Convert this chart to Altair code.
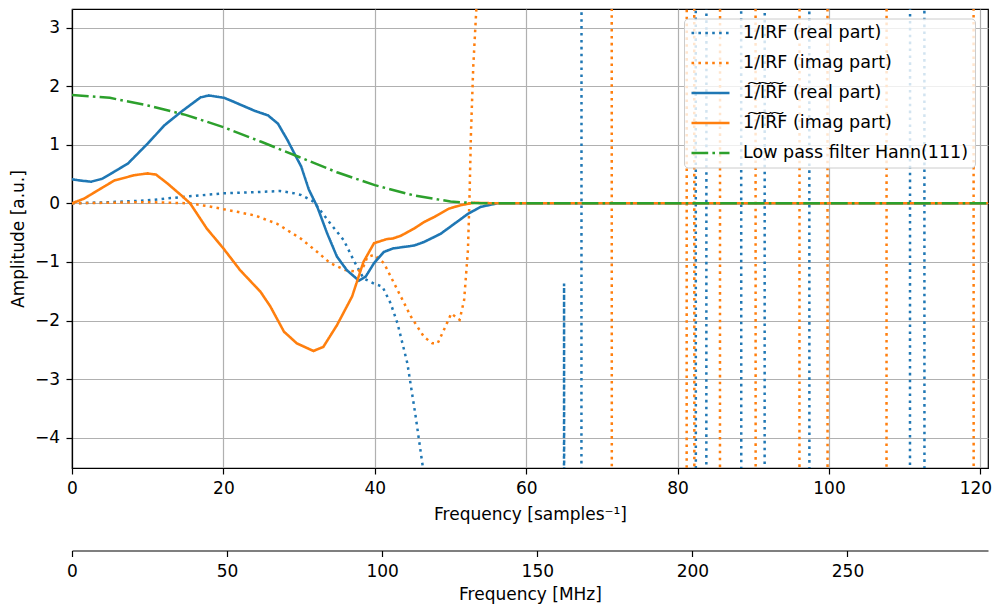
import altair as alt
import pandas as pd

# ---------------- data ----------------
TILDE_IRF = "1\u0360/I\u0360R\u0360F"
SERIES = [
    "1/IRF (real part)",
    "1/IRF (imag part)",
    TILDE_IRF + " (real part)",
    TILDE_IRF + " (imag part)",
    "Low pass filter Hann(111)",
]
COLORS = ["#1f77b4", "#ff7f0e", "#1f77b4", "#ff7f0e", "#2ca02c"]
DASHES = [[2.6, 4.3], [2.6, 4.3], [1, 0], [1, 0], [16.7, 4.2, 2.6, 4.2]]

# raw 1/IRF real part (dotted blue); large values are off-scale spikes
raw_re_x = [0, 5, 10, 15.5, 20, 24, 27.5, 29.4, 30.3, 31.9, 34.1, 35.9, 37.2, 38.5, 39.9,
            41.0, 42.1, 43.0, 44.3, 45.4, 46.3, 46.8, 50, 60, 64.9, 65.0, 65.15, 66,
            67.25, 67.35, 75, 82.35, 82.45, 83.0, 83.75, 83.85, 86, 88.35, 88.45, 90,
            91.45, 91.55, 94, 97.35, 97.45, 104, 110.65, 110.75, 111.5, 112.55, 112.65,
            117, 121]
raw_re_y = [0, 0.02, 0.05, 0.12, 0.17, 0.19, 0.21, 0.17, 0.14, 0.03, -0.34, -0.63, -0.97,
            -1.28, -1.37, -1.42, -1.71, -2.05, -2.73, -3.64, -4.46, -5.5, -10, -10, -40,
            -1.37, -40, -10, -40, 40, 10, 40, -40, -10, -40, 40, 10, 40,
            -40, -10, -40, 40, 10, 40, -40, -10, -40, 40, 10, 40, -40,
            -10, -10]

# raw 1/IRF imaginary part (dotted orange)
raw_im_x = [0, 5, 10, 15.5, 18, 20, 22, 24.2, 27.1, 30.2, 32.4, 34.1, 36.1, 37.7, 38.5,
            39.0, 39.9, 41.2, 43.0, 44.8, 46.5, 47.6, 48.3, 49.2, 50.1, 51.2, 51.8, 52.3,
            52.5, 52.7, 53.0, 53.4, 53.6, 55, 71.25, 71.35, 76, 81.15, 81.25, 81.7, 82.15,
            82.25, 84, 85.55, 85.65, 88, 90.25, 90.35, 93, 96.05, 96.15, 98, 99.75, 99.85,
            104, 107.55, 107.65, 113, 119.05, 119.15, 121]
raw_im_y = [0, 0.01, 0.02, 0, -0.05, -0.1, -0.15, -0.21, -0.35, -0.6, -0.83, -1.02, -1.14,
            -1.17, -1.08, -0.92, -0.88, -1.02, -1.48, -1.94, -2.28, -2.39, -2.39, -2.14,
            -1.88, -1.99, -1.65, -0.8, 0.05, 1.19, 2.32, 3.29, 4.5, 10, 40, -40, -10,
            -40, 40, 10, 40, -40, -10, -40, 40, 10, 40, -40, -10, -40,
            40, 10, 40, -40, -10, -40, 40, 10, 40, -40, -10]

# filtered real part (solid blue)
filt_re_x = [0, 1, 2.5, 4, 5.2, 7.4, 10, 12.2, 14.4, 17, 18.1, 20.1, 21.4, 24.1, 25.9, 27.2,
             28.5, 30.3, 31.3, 32.4, 33.7, 35.0, 36.3, 37.9, 38.8, 39.9, 41.2, 42.4, 45.2,
             46.5, 48.7, 50.5, 52.3, 54, 56.2, 60, 121]
filt_re_y = [0.41, 0.39, 0.37, 0.42, 0.51, 0.68, 1.02, 1.33, 1.56, 1.81, 1.84, 1.80, 1.73,
             1.58, 1.50, 1.36, 1.07, 0.62, 0.23, -0.06, -0.51, -0.91, -1.14, -1.32, -1.25,
             -1.02, -0.83, -0.77, -0.72, -0.66, -0.52, -0.35, -0.18, -0.06, 0.0, 0.0, 0.0]

# filtered imaginary part (solid orange)
filt_im_x = [0, 1.6, 3.4, 5.6, 8.2, 10, 11.1, 12.6, 14.4, 15.6, 17.8, 20.0, 22.2, 24.9, 26.2,
             28.0, 29.7, 31.9, 33.2, 35.0, 37.0, 38.5, 39.9, 41.6, 42.4, 43.5, 45.2, 46.5,
             47.9, 49.8, 51.4, 53.1, 56, 121]
filt_im_y = [0.0, 0.08, 0.22, 0.39, 0.48, 0.51, 0.49, 0.34, 0.14, 0.0, -0.43, -0.77, -1.14,
             -1.51, -1.76, -2.19, -2.39, -2.52, -2.45, -2.08, -1.59, -1.0, -0.68, -0.61,
             -0.60, -0.55, -0.43, -0.32, -0.23, -0.09, -0.03, 0.01, 0.0, 0.0]

# Hann low pass filter (dash-dot green)
hann_x = [0, 5, 10, 15, 20, 25, 30, 35, 40, 45, 50, 53, 55.5, 121]
hann_y = [1.85, 1.80, 1.67, 1.51, 1.30, 1.05, 0.79, 0.53, 0.31, 0.14, 0.03, 0.005, 0.0, 0.0]

X_DOMAIN = [0, 121]
Y_DOMAIN = [-4.517, 3.316]
MHZ_DOMAIN = [0, 295.3]
X_TICKS = [0, 20, 40, 60, 80, 100, 120]
Y_TICKS = [-4, -3, -2, -1, 0, 1, 2, 3]
MHZ_TICKS = [0, 50, 100, 150, 200, 250]

FONT = "DejaVu Sans"
FS = 17

xy_sets = [
    (raw_re_x, raw_re_y),
    (raw_im_x, raw_im_y),
    (filt_re_x, filt_re_y),
    (filt_im_x, filt_im_y),
    (hann_x, hann_y),
]

color_scale = alt.Scale(domain=SERIES, range=COLORS)
dash_scale = alt.Scale(domain=SERIES, range=DASHES)

legend = alt.Legend(
    orient="none", legendX=612, legendY=9.5, title=None,
    symbolType="stroke", symbolSize=1444, symbolStrokeWidth=2.6,
    clipHeight=17, rowPadding=12, padding=6, labelOffset=12,
    fillColor="rgba(255,255,255,0.8)", strokeColor="#cccccc", cornerRadius=4,
    labelFontSize=17.5, labelFont=FONT, labelColor="black", labelLimit=400,
)

x_axis = alt.Axis(values=X_TICKS, title="Frequency [samples\u207b\u00b9]", grid=True,
                  titleY=46.5, titleBaseline="middle",
                  labelOffset={"condition": {"test": "datum.value === 120", "value": -5},
                               "value": 0})
y_axis = alt.Axis(values=Y_TICKS, title="Amplitude [a.u.]", grid=True,
                  titleX=-54, titleY=229.5, titleAngle=270, titleAlign="center",
                  titleBaseline="middle")

layers = []
for i, (xs, ys) in enumerate(xy_sets):
    df = pd.DataFrame({"x": xs, "y": ys, "series": SERIES[i]})
    strokecap = "butt" if i in (0, 1, 4) else "square"
    layer = alt.Chart(df).mark_line(clip=True, strokeWidth=2.5, strokeCap=strokecap).encode(
        x=alt.X("x:Q", scale=alt.Scale(domain=X_DOMAIN, nice=False, zero=False), axis=x_axis),
        y=alt.Y("y:Q", scale=alt.Scale(domain=Y_DOMAIN, nice=False, zero=False), axis=y_axis),
        color=alt.Color("series:N", scale=color_scale, legend=legend),
        strokeDash=alt.StrokeDash("series:N", scale=dash_scale, legend=legend),
        order=alt.Order("x:Q"),
    )
    layers.append(layer)

main = alt.layer(*layers)

mhz_df = pd.DataFrame({"mhz": MHZ_DOMAIN})
mhz_layer = alt.Chart(mhz_df).mark_point(opacity=0).encode(
    x=alt.X("mhz:Q", scale=alt.Scale(domain=MHZ_DOMAIN, nice=False, zero=False),
            axis=alt.Axis(orient="bottom", offset=82.5, values=MHZ_TICKS, grid=False,
                          title="Frequency [MHz]", titleY=44, titleBaseline="middle"))
)

chart = alt.layer(main, mhz_layer).resolve_scale(x="independent").properties(
    width=916, height=459,
    autosize=alt.AutoSizeParams(type="none"),
    padding={"left": 64, "top": 1, "right": 4, "bottom": 140},
).configure_view(
    stroke="black", strokeWidth=1.2
).configure_axis(
    labelFont=FONT, labelFontSize=FS, labelColor="black", labelFlush=False,
    titleFont=FONT, titleFontSize=FS, titleFontWeight="normal", titleColor="black",
    tickColor="black", tickWidth=1.2, tickSize=6, labelPadding=6.5,
    domainColor="black", domainWidth=1.2,
    gridColor="#b0b0b0", gridWidth=1.2,
).configure_legend(
    labelFont=FONT, labelFontSize=17.5
)

chart.save("out.html", embed_options={"renderer": "svg", "actions": False})
